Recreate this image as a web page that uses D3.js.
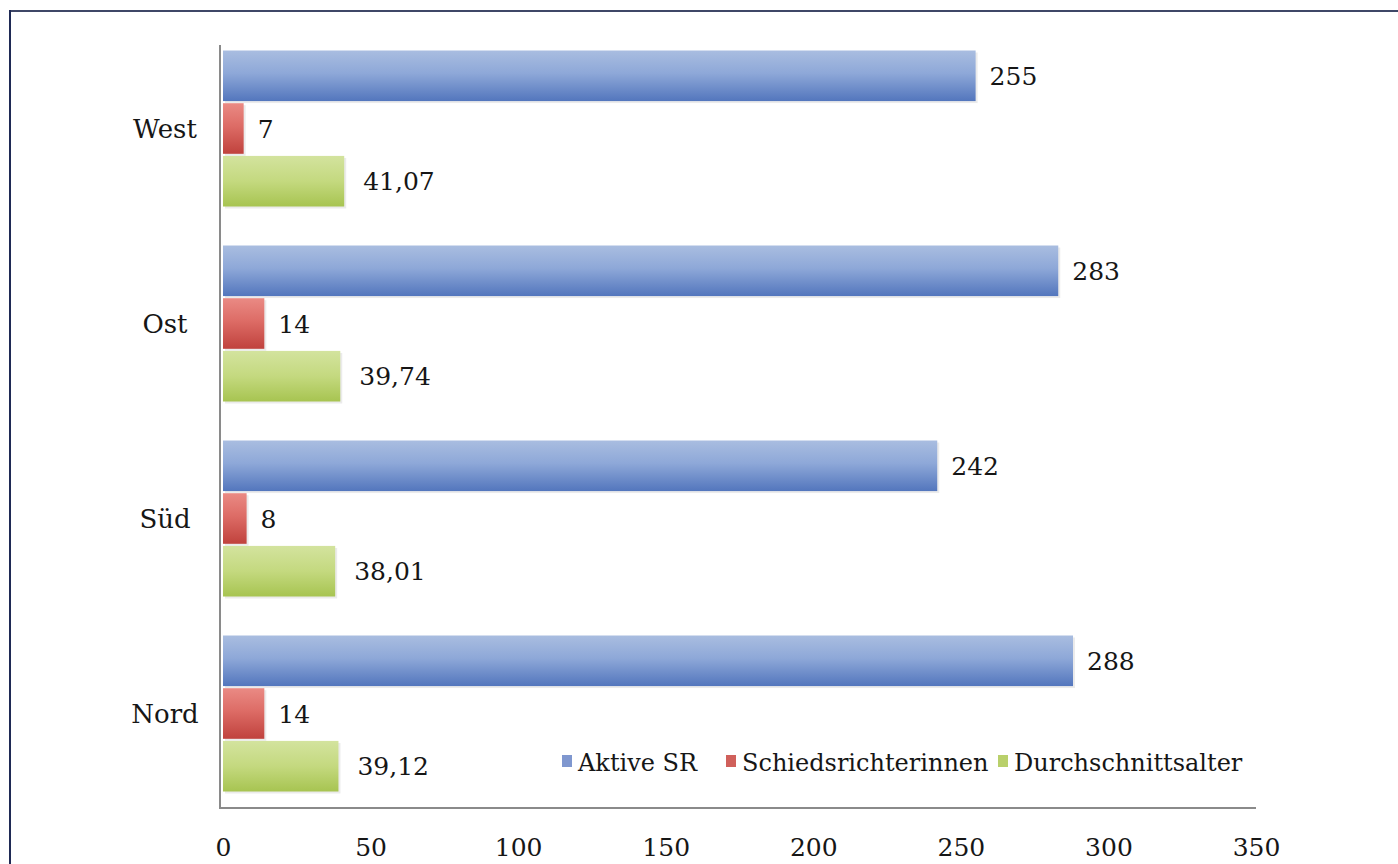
<!DOCTYPE html>
<html><head><meta charset="utf-8">
<script src="https://cdn.jsdelivr.net/npm/d3@7/dist/d3.min.js"></script>
<style>
html,body{margin:0;padding:0;background:#fff;}
svg text{font-family:"DejaVu Serif","Liberation Serif",serif;fill:#161616;}
</style></head>
<body><svg id="c" width="1398" height="864"></svg>
<script>
const categories = ["West", "Ost", "Süd", "Nord"];
const seriesNames = ["Aktive SR", "Schiedsrichterinnen", "Durchschnittsalter"];
const aktiveSR = [255, 283, 242, 288];
const schiedsrichterinnen = [7, 14, 8, 14];
const durchschnittsalter = [41.07, 39.74, 38.01, 39.12];
const xTicks = [0, 50, 100, 150, 200, 250, 300, 350];

const seriesValues = [aktiveSR, schiedsrichterinnen, durchschnittsalter];
const svg = d3.select("#c");
const locale = d3.formatLocale({decimal: ",", thousands: ".", grouping: [3], currency: ["", "€"]});
const fmtInt = locale.format("d"), fmtDec = locale.format(".2f");

// frame
svg.append("line").attr("x1",10).attr("x2",1398).attr("y1",11).attr("y2",11).attr("stroke","#3f4767").attr("stroke-width",2);
svg.append("line").attr("x1",10).attr("x2",10).attr("y1",10).attr("y2",864).attr("stroke","#1f2a55").attr("stroke-width",2);

const x = d3.scaleLinear().domain([0, 350]).range([223, 1256]);
const y0 = d3.scaleBand().domain(categories).range([31, 811]).paddingInner(0.2).paddingOuter(0.1);
const y1 = d3.scaleBand().domain(seriesNames).range([0, y0.bandwidth()]).paddingInner(0.04);

const grads = [
  ["gBlue", [["0%","#a9bde0"],["45%","#8ea8d8"],["100%","#5376bd"]]],
  ["gRed", [["0%","#ea8a84"],["45%","#dd6c66"],["100%","#c0423d"]]],
  ["gGreen", [["0%","#d3e39e"],["50%","#c4d97f"],["100%","#a7c451"]]]
];
const defs = svg.append("defs");
grads.forEach(([id, stops]) => {
  const g = defs.append("linearGradient").attr("id", id).attr("x1",0).attr("y1",0).attr("x2",0).attr("y2",1);
  stops.forEach(([o,c]) => g.append("stop").attr("offset", o).attr("stop-color", c));
});
const fills = ["url(#gBlue)", "url(#gRed)", "url(#gGreen)"];
const legendColors = ["#7f97cf", "#d0605b", "#b9d06b"];

// bars
categories.forEach((cat, ci) => {
  seriesNames.forEach((s, si) => {
    const v = seriesValues[si][ci];
    const yy = y0(cat) + y1(s);
    svg.append("rect").attr("x", x(0)).attr("y", yy + 2).attr("width", x(v) - x(0)).attr("height", y1.bandwidth())
      .attr("fill", "#000").attr("opacity", 0.08).attr("transform","translate(2,0)");
    svg.append("rect").attr("x", x(0)).attr("y", yy).attr("width", x(v) - x(0)).attr("height", y1.bandwidth())
      .attr("fill", fills[si]);
    svg.append("text").attr("x", x(v) + (si === 2 ? 19 : 14)).attr("y", yy + y1.bandwidth() / 2)
      .attr("dy", "0.36em").attr("font-size", 25)
      .text(si === 2 ? fmtDec(v) : fmtInt(v));
  });
  svg.append("text").attr("x", 165).attr("y", y0(cat) + y0.bandwidth() / 2).attr("dy", "0.36em")
    .attr("text-anchor", "middle").attr("font-size", 26).text(cat);
});

// axes
svg.append("line").attr("x1", 220).attr("x2", 220).attr("y1", 45).attr("y2", 808).attr("stroke", "#8a8a8a").attr("stroke-width", 2);
svg.append("line").attr("x1", 219).attr("x2", 1256).attr("y1", 808).attr("y2", 808).attr("stroke", "#8a8a8a").attr("stroke-width", 2);
const xAxis = svg.append("g").attr("transform", "translate(0,808)")
  .call(d3.axisBottom(x).tickValues(xTicks).tickSize(0).tickPadding(30).tickFormat(d => fmtInt(d)));
xAxis.select(".domain").remove();
xAxis.selectAll("text").attr("font-size", 25).attr("font-family", '"DejaVu Serif",serif').attr("fill", "#161616");

// legend
const legendX = [562, 726, 998];
seriesNames.forEach((s, i) => {
  svg.append("rect").attr("x", legendX[i]).attr("y", 755).attr("width", 10).attr("height", 12).attr("fill", legendColors[i]);
  svg.append("text").attr("x", legendX[i] + 16).attr("y", 762).attr("dy", "0.36em").attr("font-size", 24).text(s);
});
</script></body></html>
